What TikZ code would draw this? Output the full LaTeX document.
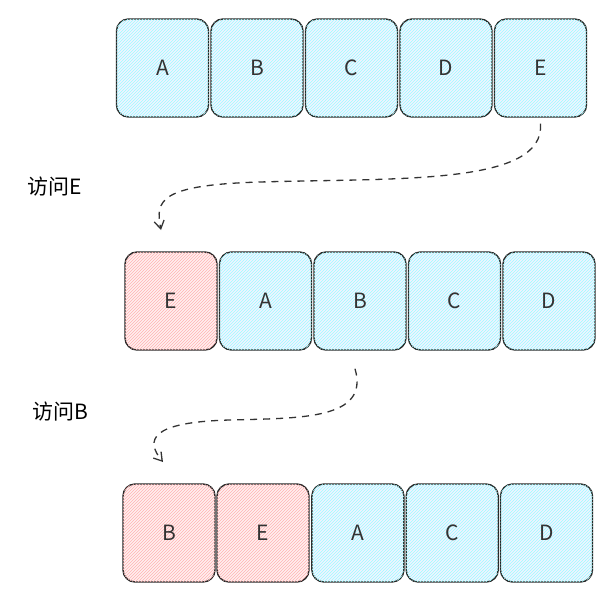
\documentclass[tikz,border=0pt]{standalone}
\usepackage{fontspec}
\setmainfont{Noto Sans CJK SC}
\usetikzlibrary{arrows.meta,positioning,patterns}

\tikzset{
  cell/.style={draw=black!85, line width=1.4pt, rounded corners=12pt, minimum width=92pt,
    minimum height=98pt, font=\fontsize{21}{24}\selectfont, text=black!80,
    fill=blue!5, pattern color=cyan!40},
  hot/.style={cell, fill=red!6, pattern color=red!30},
  hop/.style={line width=1.3pt, dash pattern=on 7pt off 6pt, black!80,
    -{Straight Barb[length=8pt, width=10pt]}}
}

\begin{document}
\begin{tikzpicture}[x=1pt, y=-1pt]
\useasboundingbox (0,0) rectangle (612,594);

% first row
\foreach \t [count=\i] in {A,B,C,D,E}
  \node[cell, postaction={pattern=north east lines}] (r1\i) at (68+94.5*\i,68) {\t};

% second row
\node[hot, postaction={pattern=north east lines}] (r21) at (171,301) {E};
\foreach \t [count=\i from 2] in {A,B,C,D}
  \node[cell, postaction={pattern=north east lines}] (r2\i) at (76.5+94.5*\i,301) {\t};

% third row
\node[hot, postaction={pattern=north east lines}] (r31) at (169,533) {B};
\node[hot, postaction={pattern=north east lines}] (r32) at (263,533) {E};
\foreach \t [count=\i from 3] in {A,C,D}
  \node[cell, postaction={pattern=north east lines}] (r3\i) at (75+94.3*\i,533) {\t};

% moves
\coordinate (e1) at (161,230);
\coordinate (e2) at (163,462);
\draw[hop] (r15.south) ++(0,6) .. controls (545,185) and (400,178) .. (260,182)
  .. controls (160,185) and (155,200) .. (e1);
\draw[hop] (r23.south) ++(-5,18) .. controls (370,420) and (300,418) .. (230,420)
  .. controls (150,422) and (145,440) .. (e2);

\node[font=\fontsize{21}{24}\selectfont] (l1) at (55,187) {访问E};
\node[font=\fontsize{21}{24}\selectfont] (l2) at (60,412) {访问B};
\end{tikzpicture}
\end{document}
